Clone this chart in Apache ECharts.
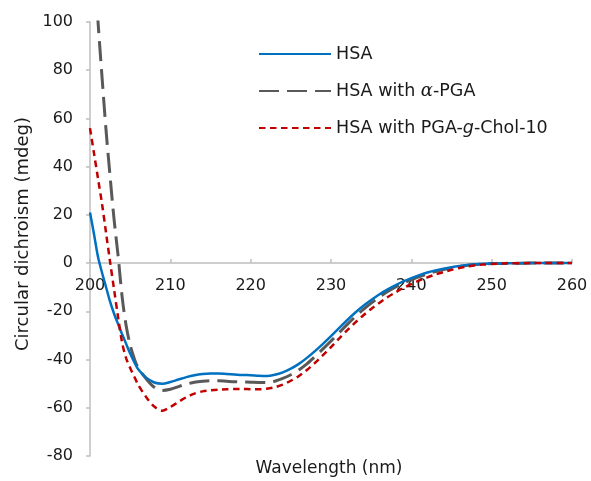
<!DOCTYPE html>
<html>
<head>
<meta charset="utf-8">
<script src="https://cdn.jsdelivr.net/npm/echarts@6/dist/echarts.min.js"></script>
<style>html,body{margin:0;padding:0;background:#fff}#c{width:591px;height:481px}</style>
</head>
<body>
<div id="c"></div>
<script>
var wavelengths = [200,200.5,201,201.5,202,202.5,203,203.5,204,204.5,205,205.5,206,207,208,209,210,211,212,213,214,215,216,217,218,219,220,221,222,223,224,225,226,227,228,229,230,231,232,233,234,235,236,237,238,239,240,241,242,243,244,245,246,247,248,249,250,252,255,260];
var hsa = [21,12,2.5,-4,-10,-16,-21,-25.3,-29.5,-33.5,-37.5,-41,-44,-47.5,-49.5,-50,-49.3,-48.3,-47.3,-46.5,-46,-45.8,-45.8,-46,-46.2,-46.4,-46.5,-46.7,-46.8,-46.3,-45.3,-43.8,-41.8,-39.3,-36.5,-33.5,-30.3,-27,-23.7,-20.6,-17.8,-15.3,-13,-11,-9.2,-7.6,-6.2,-5,-3.9,-3,-2.3,-1.7,-1.2,-0.8,-0.5,-0.3,-0.2,-0.1,0,0];
var hsaPga = [150,125,100,77,55,36,18,3,-14,-26,-34,-39.5,-43.5,-48,-51.5,-52.8,-52.3,-51.2,-50.2,-49.4,-49,-48.8,-48.8,-49,-49.2,-49.3,-49.4,-49.5,-49.5,-49,-47.8,-46.3,-44.3,-41.8,-38.8,-35.6,-32.3,-28.9,-25.5,-22.3,-19.3,-16.6,-14.1,-11.9,-10,-8.3,-6.9,-5.6,-4.5,-3.5,-2.7,-2,-1.4,-0.9,-0.6,-0.4,-0.2,-0.1,0,0];
var hsaChol = [56,45.5,35,24.5,12.5,0.5,-11,-22.5,-33,-39.5,-43.5,-47,-50.5,-55.6,-59.5,-61.2,-59.7,-57.6,-55.6,-54.1,-53.2,-52.8,-52.5,-52.3,-52.2,-52.2,-52.3,-52.3,-52.1,-51.5,-50.4,-48.8,-46.8,-44.3,-41.4,-38.2,-34.8,-31.3,-27.9,-24.7,-21.7,-19,-16.5,-14.2,-12.2,-10.3,-8.7,-7.2,-5.9,-4.7,-3.7,-2.8,-2,-1.4,-0.9,-0.6,-0.4,-0.1,0,0];
var seriesNames = ['HSA', 'HSA with α-PGA', 'HSA with PGA-g-Chol-10'];
var xTitle = 'Wavelength (nm)';
var yTitle = 'Circular dichroism (mdeg)';
var yMin = -80, yMax = 100;

function pairs(vals){ return wavelengths.map(function(w,i){ return [w, vals[i]]; }); }

var FONT = '"DejaVu Sans", "Liberation Sans", Arial, sans-serif';
var TXT = '#1a1a1a';
var gridTop = 22, gridBottom = 25, H = 481;
var plotH = H - gridTop - gridBottom;
var zeroOffset = -plotH * (0 - yMin) / (yMax - yMin);

var chart = echarts.init(document.getElementById('c'), null, {renderer:'canvas'});
chart.setOption({
  animation: false,
  backgroundColor: '#fff',
  grid: {left: 90, right: 19, top: gridTop, bottom: gridBottom, containLabel: false},
  legend: {
    orient: 'vertical', left: 253, top: 40,
    itemWidth: 72, itemHeight: 14, itemGap: 19,
    itemStyle: {opacity: 0, borderWidth: 0},
    textStyle: {fontFamily: FONT, fontSize: 17.5, color: TXT,
      rich: {i: {fontFamily: '"DejaVu Serif", serif', fontStyle: 'italic', fontSize: 18, color: TXT},
             g: {fontFamily: FONT, fontStyle: 'italic', fontSize: 17.5, color: TXT}}},
    formatter: function(n){
      if (n === seriesNames[1]) return 'HSA with {i|α}-PGA';
      if (n === seriesNames[2]) return 'HSA with PGA-{g|g}-Chol-10';
      return n;
    },
    data: seriesNames
  },
  xAxis: {
    type: 'value', min: 200, max: 260, interval: 10,
    position: 'bottom', offset: zeroOffset,
    axisLine: {onZero: false, lineStyle: {color: '#bfbfbf', width: 1.5}},
    axisTick: {show: true, inside: true, length: 4, lineStyle: {color: '#bfbfbf', width: 1.5}},
    axisLabel: {fontFamily: FONT, fontSize: 16, color: TXT, margin: 15},
    splitLine: {show: false}
  },
  yAxis: {
    type: 'value', min: yMin, max: yMax, interval: 20,
    axisLine: {show: true, onZero: false, lineStyle: {color: '#bfbfbf', width: 1.5}},
    axisTick: {show: true, inside: false, length: 4, lineStyle: {color: '#bfbfbf', width: 1.5}},
    axisLabel: {fontFamily: FONT, fontSize: 16, color: TXT, margin: 17},
    splitLine: {show: false}
  },
  graphic: [{
    type: 'text', x: 329, y: 469,
    style: {text: xTitle, font: '17px "DejaVu Sans", sans-serif', fill: TXT, textAlign: 'center', textVerticalAlign: 'middle'}
  }, {
    type: 'text', x: 23, y: 234, rotation: Math.PI / 2,
    style: {text: yTitle, font: '18px "DejaVu Sans", sans-serif', fill: TXT, textAlign: 'center', textVerticalAlign: 'middle'}
  }],
  series: [
    {name: seriesNames[0], type: 'line', data: pairs(hsa), symbol: 'none', showSymbol: false, smooth: 0.3,
     lineStyle: {color: '#0070C0', width: 2.5, type: 'solid'}, itemStyle: {color: '#0070C0'}, z: 3},
    {name: seriesNames[1], type: 'line', data: pairs(hsaPga), symbol: 'none', showSymbol: false, smooth: 0.3,
     lineStyle: {color: '#595959', width: 3, type: [20, 8]}, itemStyle: {color: '#595959'}, z: 2},
    {name: seriesNames[2], type: 'line', data: pairs(hsaChol), symbol: 'none', showSymbol: false, smooth: 0.3,
     lineStyle: {color: '#C00000', width: 2.5, type: [6.5, 4.5]}, itemStyle: {color: '#C00000'}, z: 4}
  ]
});
</script>
</body>
</html>
